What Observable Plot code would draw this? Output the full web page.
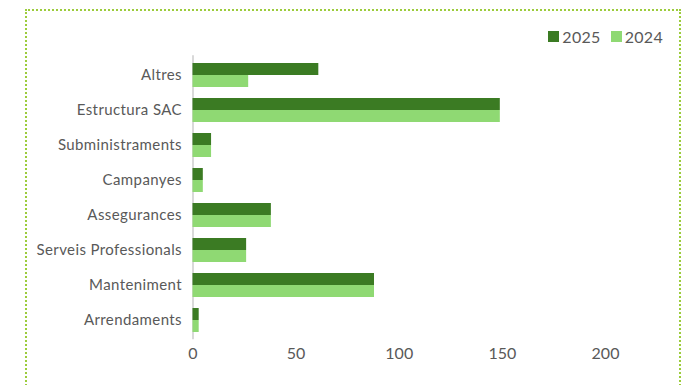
<!DOCTYPE html>
<html>
<head>
<meta charset="utf-8">
<script src="https://cdn.jsdelivr.net/npm/d3@7"></script>
<script src="https://cdn.jsdelivr.net/npm/@observablehq/plot@0.6"></script>
<style>
  html, body { margin: 0; padding: 0; background: #fff; }
  body { width: 686px; height: 385px; overflow: hidden; position: relative; font-family: Lato, "Open Sans", sans-serif; }
  .frame { position: absolute; left: 25px; top: 9px; width: 656px; height: 400px; border: 2px dotted #9ccc3c; box-sizing: border-box; }
  .legend { height: 30px; padding-top: 10px; padding-right: 16px; display: flex; justify-content: flex-end; align-items: center; font-size: 16px; color: #595959; box-sizing: content-box; }
  .legend .item { display: inline-flex; align-items: center; margin-left: 10px; letter-spacing: 0.3px; }
  .legend .sw { width: 11px; height: 11px; margin-right: 3px; display: inline-block; }
  #chart svg { display: block; }
  #chart svg g[aria-label="y-axis tick label"] text { letter-spacing: 0.4px; }
</style>
</head>
<body>
<div class="frame">
  <div class="legend" id="legend"></div>
  <div id="chart"></div>
</div>
<script>
const categories = ["Altres", "Estructura SAC", "Subministraments", "Campanyes", "Assegurances", "Serveis Professionals", "Manteniment", "Arrendaments"];
const values2025 = [61, 149, 9, 5, 38, 26, 88, 3];
const values2024 = [27, 149, 9, 5, 38, 26, 88, 3];
const seriesNames = ["2025", "2024"];
const seriesColors = ["#3b7b23", "#8fd973"];
const xTicks = [0, 50, 100, 150, 200];

const data2025 = categories.map((c, i) => ({category: c, value: values2025[i], series: "2025"}));
const data2024 = categories.map((c, i) => ({category: c, value: values2024[i], series: "2024"}));

const legend = document.getElementById("legend");
seriesNames.forEach((s, i) => {
  const item = document.createElement("span");
  item.className = "item";
  const sw = document.createElement("span");
  sw.className = "sw";
  sw.style.background = seriesColors[i];
  item.appendChild(sw);
  item.appendChild(document.createTextNode(s));
  legend.appendChild(item);
});

const half = 12;

const chart = Plot.plot({
  width: 652,
  height: 336,
  marginLeft: 165.5,
  marginRight: 74,
  marginTop: 4.25,
  marginBottom: 47.75,
  style: {fontFamily: "Lato, 'Open Sans', sans-serif", color: "#595959", background: "transparent"},
  x: {domain: [0, 200], ticks: xTicks, tickSize: 0, tickPadding: 8, label: null},
  y: {domain: categories, paddingInner: 0.324, paddingOuter: 0.162, tickSize: 0, tickPadding: 11, label: null},
  color: {domain: seriesNames, range: seriesColors},
  marks: [
    Plot.ruleX([0], {stroke: "#d9d9d9", strokeWidth: 2}),
    Plot.barX(data2025, {x: "value", y: "category", fill: "series", insetBottom: half}),
    Plot.barX(data2024, {x: "value", y: "category", fill: "series", insetTop: half}),
    Plot.axisX({ticks: xTicks, tickSize: 0, tickPadding: 8, fontSize: 16, fill: "#595959", label: null}),
    Plot.axisY({tickSize: 0, tickPadding: 11, fontSize: 15, fill: "#595959", label: null})
  ]
});
document.getElementById("chart").appendChild(chart);
</script>
</body>
</html>
